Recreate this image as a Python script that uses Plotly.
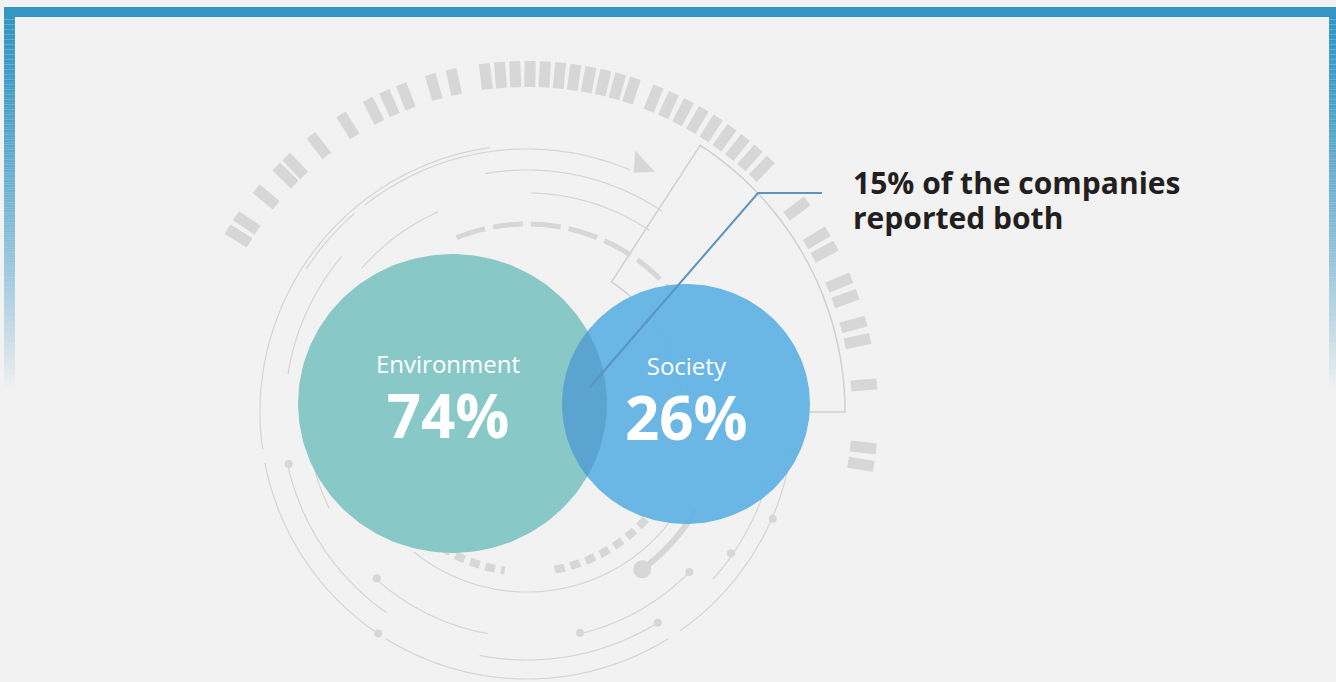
import numpy as np
import plotly.graph_objects as go

# ---------------- data ----------------
categories = ["Environment", "Society"]
shares = [74, 26]                # % of companies reporting on each topic
both_share = 15                  # % of companies reporting both
callout_lines = [f"{both_share}% of the companies", "reported both"]

# ---------------- layout / style config (pixels) ----------------
W, H = 1336, 682
BG = "#F2F2F2"
circle_cx = [452.5, 686.0]
circle_cy = [403.5, 404.0]
circle_ry = [149.5, 120.0]
X_STRETCH = 1.033                 # reference circles are slightly wider than tall
circle_fill = ["#88C9C8", "rgba(96,178,227,0.93)"]
overlap_fill = "#5BA4D0"
LEADER = "#5C93BF"
DECOR = "#D5D5D5"
DECOR_DASH = "#D7D7D7"
FRAME = "#3596C4"
C = (527.0, 412.0)                 # centre of decorative ring system


def ellipse_pts(cx, cy, ry, a0=0, a1=360, n=240):
    t = np.radians(np.linspace(a0, a1, n))
    return cx + ry * X_STRETCH * np.cos(t), cy - ry * np.sin(t)


def pol(r, a):
    t = np.radians(a)
    return C[0] + r * np.cos(t), C[1] - r * np.sin(t)


def arc_path(r, a0, a1, n=80):
    pts = [pol(r, a) for a in np.linspace(a0, a1, n)]
    return "M " + " L ".join(f"{x:.1f},{y:.1f}" for x, y in pts)


shapes = []

# ---- decorative ring system (background) ----
thin_arcs = [
    (267, 98, 188), (267, 191, 236), (267, 238, 302), (267, 305, 354),
    (263, 67, 128), (263, 131, 147),
    (242, 56, 100), (242, 140, 171),
    (219, 56, 89), (219, 114, 139), (220, 185, 206),
    (245, 192, 235), (225, 228, 260), (248, 259, 302),
    (228, 283, 315), (180, 231, 322), (250, 318, 345),
]
for r, a0, a1 in thin_arcs:
    shapes.append(dict(type="path", path=arc_path(r, a0, a1), layer="below",
                       line=dict(color=DECOR, width=1.2)))

# annular sector outline
sec = arc_path(318, 0, 57) + " L " + " L ".join(
    f"{x:.1f},{y:.1f}" for x, y in [pol(r, a) for r, a in zip(np.linspace(318, 155, 2), [57, 57])])
inner = [pol(155, a) for a in np.linspace(57, 0, 60)]
sec += " L " + " L ".join(f"{x:.1f},{y:.1f}" for x, y in inner) + " Z"
shapes.append(dict(type="path", path=sec, layer="below", line=dict(color="#D0D0D0", width=1.5)))

# thick dashed arcs
shapes.append(dict(type="path", path=arc_path(188, 112, 40), layer="below",
                   line=dict(color=DECOR_DASH, width=5, dash="30px,8px")))
shapes.append(dict(type="path", path=arc_path(160, 232, 262), layer="below",
                   line=dict(color=DECOR_DASH, width=8, dash="10px,6px")))
shapes.append(dict(type="path", path=arc_path(160, 280, 320), layer="below",
                   line=dict(color=DECOR_DASH, width=8, dash="10px,6px")))
shapes.append(dict(type="path", path=arc_path(195, 306, 330), layer="below",
                   line=dict(color=DECOR_DASH, width=6)))

# dots
for r, a, s in [(244, 192.3, 4), (224, 227.9, 4), (267, 236.1, 4), (248, 301.8, 4),
                (228, 315.4, 4), (248, 325.3, 4), (268, 336.5, 4), (227, 283.5, 4),
                (195, 306.2, 9)]:
    x, y = pol(r, a)
    shapes.append(dict(type="circle", x0=x - s, x1=x + s, y0=y - s, y1=y + s, layer="below",
                       fillcolor=DECOR_DASH, line=dict(width=0)))

# small triangle
tri = [pol(272, 62), pol(262, 66), pol(283, 67.5)]
shapes.append(dict(type="path", layer="below", fillcolor=DECOR_DASH, line=dict(width=0),
                   path="M " + " L ".join(f"{x:.1f},{y:.1f}" for x, y in tri) + " Z"))

# outer ring of gray blocks
block_angles = ([148.6, 146, 140.5, 135.6, 133.3, 128, 122, 117, 114, 111, 106, 102.5]
                + list(np.linspace(97, 72, 11)) + list(np.linspace(68, 46, 9))
                + [37, 31, 28.3, 22.5, 19.6, 15, 12.1, 4.6, -6, -8.9])
for a in block_angles:
    t = np.radians(a)
    u = np.array([np.cos(t), -np.sin(t)])
    v = np.array([np.sin(t), np.cos(t)])
    c = np.array(C)
    r0, r1, w = 325, 351, 11
    pts = [c + r0 * u - w / 2 * v, c + r1 * u - w / 2 * v, c + r1 * u + w / 2 * v, c + r0 * u + w / 2 * v]
    shapes.append(dict(type="path", layer="below", fillcolor=DECOR_DASH, line=dict(width=0),
                       path="M " + " L ".join(f"{p[0]:.1f},{p[1]:.1f}" for p in pts) + " Z"))

# ---- frame (top bar + side bars fading out) ----
shapes.append(dict(type="rect", x0=4, x1=1336, y0=7, y1=17, fillcolor=FRAME, line=dict(width=0), layer="below"))
edges = np.linspace(17, 390, 150)
for y0, y1 in zip(edges[:-1], edges[1:]):
    t = (y0 - 17) / (390 - 17)
    op = max(0.0, 1 - t ** 1.5)
    for xa, xb in [(4, 15), (1329, 1336)]:
        shapes.append(dict(type="rect", x0=xa, x1=xb, y0=y0, y1=y1, fillcolor=FRAME,
                           opacity=op, line=dict(width=0), layer="below"))

fig = go.Figure()

# ---- Venn circles ----
for i, name in enumerate(categories):
    xs, ys = ellipse_pts(circle_cx[i], circle_cy[i], circle_ry[i])
    fig.add_trace(go.Scatter(x=xs, y=ys, mode="lines", fill="toself", fillcolor=circle_fill[i],
                             line=dict(width=0), name=f"{name} {shares[i]}%", hoverinfo="skip"))

# overlap lens
r1, r2 = circle_ry
d = (circle_cx[1] - circle_cx[0]) / X_STRETCH
a = (r1 ** 2 - r2 ** 2 + d ** 2) / (2 * d)
h = np.sqrt(r1 ** 2 - a ** 2)
th1 = np.degrees(np.arctan2(h, a))
th2 = np.degrees(np.arctan2(h, d - a))
x1s, y1s = ellipse_pts(circle_cx[0], circle_cy[0], r1, -th1, th1, 80)
x2s, y2s = ellipse_pts(circle_cx[1], circle_cy[1], r2, 180 - th2, 180 + th2, 80)
fig.add_trace(go.Scatter(x=np.concatenate([x1s, x2s]), y=np.concatenate([y1s, y2s]), mode="lines",
                         fill="toself", fillcolor=overlap_fill, line=dict(width=0),
                         name=f"Both {both_share}%", hoverinfo="skip"))

# leader line
fig.add_trace(go.Scatter(x=[590, 758, 822], y=[387, 193, 193], mode="lines",
                         line=dict(color=LEADER, width=2), hoverinfo="skip"))

# ---- text ----
ann = []
for i, name in enumerate(categories):
    txt = (f"<span style='font-size:24px'>{name}</span><br>"
           f"<b><span style='font-size:60px'>{shares[i]}%</span></b>")
    ann.append(dict(x=circle_cx[i] - (5 if i == 0 else 0), y=401 if i == 0 else 403, text=txt,
                    showarrow=False, font=dict(family="Open Sans", size=50, color="white"),
                    xanchor="center", yanchor="middle"))
ann.append(dict(x=851, y=200, text="<br>".join(f"<b><span style='font-size:30px'>{l}</span></b>" for l in callout_lines),
                showarrow=False, align="left",
                font=dict(family="Open Sans", size=27, color="#231F20"),
                xanchor="left", yanchor="middle"))

fig.update_layout(
    width=W, height=H, margin=dict(l=0, r=0, t=0, b=0),
    paper_bgcolor=BG, plot_bgcolor=BG, showlegend=False, hovermode=False,
    xaxis=dict(range=[0, W], visible=False, fixedrange=True),
    yaxis=dict(range=[H, 0], visible=False, fixedrange=True),
    shapes=shapes, annotations=ann,
)
fig.write_html("out.html", config={"displayModeBar": False},
               post_script="document.body.style.margin='0px';document.body.style.background='#F2F2F2';")
